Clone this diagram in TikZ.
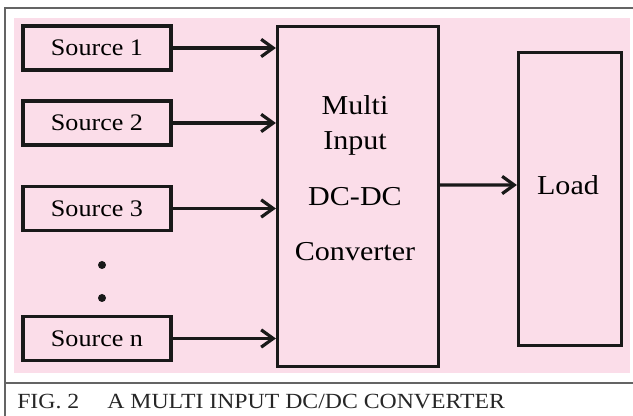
\documentclass[tikz,border=0pt]{standalone}
\usepackage{fontspec}
\setmainfont{Liberation Serif}[FakeStretch=1.1]
\usetikzlibrary{arrows.meta}
\definecolor{bgpink}{RGB}{251,221,233}
\definecolor{framegray}{RGB}{100,100,100}
\tikzset{
  blk/.style={draw=black!90, line width=2.4pt, inner sep=0pt},
  srcbox/.style={blk, minimum width=111pt, minimum height=33pt, font=\fontsize{17.8}{20}\selectfont},
  arr/.style={draw=black!90, line width=2.4pt, -{Straight Barb[length=9pt,width=13pt]}},
  bigtxt/.style={font=\fontsize{20.5}{26.25}\selectfont, inner sep=0pt}
}

\begin{document}
\begin{tikzpicture}[x=0.75pt,y=-0.75pt]
\useasboundingbox (0,0) rectangle (633,416);
% frame, background and caption
\fill [bgpink] (14,18) rectangle (630,373);
\draw [framegray, line width=1.5pt] (633,8) -- (5,8) -- (5,416);
\draw [framegray, line width=1.5pt] (5,383) -- (633,383);
\node [anchor=base west, inner sep=0pt, font=\fontsize{16.2}{20}\selectfont, text=black!85] (cap) at (17,409) {FIG. 2\hspace{21pt}A MULTI INPUT DC/DC CONVERTER};
% sources
\node [srcbox] (s1) at (97,48) {Source 1};
\node [srcbox] (s2) at (97,123) {Source 2};
\node [srcbox] (s3) at (97,208.5) {Source 3};
\node [srcbox] (sn) at (97,338.5) {Source n};
\fill [black!90] (102,265) circle [radius=3pt];
\fill [black!90] (102,298) circle [radius=3pt];
% converter and load
\node [blk, minimum width=120.75pt, minimum height=255pt] (conv) at (358,196.5) {};
\node [bigtxt, align=center, anchor=north] (convtxt) at (355,95) {Multi\\Input\\[15.75pt]DC-DC\\[15pt]Converter};
\node [blk, minimum width=77.25pt, minimum height=219.75pt] (load) at (570,199) {};
\node [bigtxt] (loadtxt) at (568,185) {Load};
% arrows
\foreach \s in {s1,s2,s3,sn}
  \draw [arr] (\s.east) -- (conv.west |- \s.east);
\draw [arr] ([yshift=8.6pt]conv.east) -- ([yshift=10.5pt]load.west);
\end{tikzpicture}
\end{document}
